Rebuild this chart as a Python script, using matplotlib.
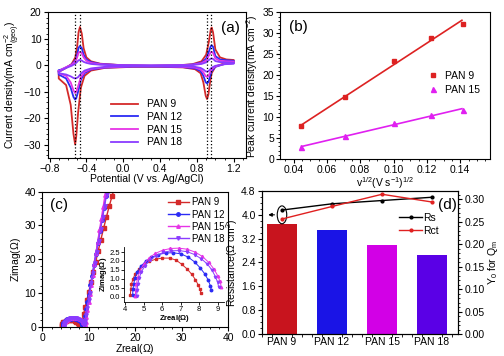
import numpy as np
import matplotlib.pyplot as plt
from matplotlib.patches import Ellipse

plt.rcParams['font.family'] = ['Liberation Sans', 'DejaVu Sans']
plt.rcParams['font.size'] = 7.5
plt.rcParams['mathtext.default'] = 'regular'

labels = ['PAN 9', 'PAN 12', 'PAN 15', 'PAN 18']
colors = ['#d42a2a', '#2b2bf5', '#e633e6', '#8a3cff']

# (a) cyclic voltammograms
E_fwd = [-0.70, -0.62, -0.56, -0.52, -0.50, -0.485, -0.47, -0.45, -0.43, -0.40, -0.35, -0.25, 0.0,
         0.3, 0.6, 0.75, 0.85, 0.90, 0.93, 0.95, 0.96, 0.975, 1.0, 1.05, 1.12, 1.2]
E_rev = [1.2, 1.1, 1.0, 0.96, 0.94, 0.925, 0.91, 0.895, 0.87, 0.84, 0.78, 0.65, 0.4, 0.1,
         -0.2, -0.35, -0.42, -0.46, -0.49, -0.51, -0.522, -0.54, -0.57, -0.62, -0.70]
j9_fwd = [-2.5, -1.0, 0.5, 3.0, 7.0, 12.5, 14.5, 12.0, 6.5, 3.0, 1.5, 0.6, 0.0, -0.2, 0.0, 0.4, 1.5,
          4.0, 9.0, 13.5, 14.3, 12.5, 6.0, 3.0, 2.2, 2.0]
j12_fwd = [-2.0, -0.8, 0.3, 1.8, 4.0, 6.6, 7.3, 6.5, 4.0, 2.2, 1.2, 0.5, 0.0, -0.1, 0.0, 0.3, 1.0,
           2.5, 5.2, 7.2, 7.6, 7.0, 3.5, 2.2, 1.9, 1.7]
j15_fwd = [-2.2, -0.7, 0.2, 1.4, 3.0, 4.7, 5.1, 4.6, 3.0, 1.7, 0.9, 0.4, 0.0, -0.1, 0.0, 0.2, 0.8,
           1.8, 3.7, 4.9, 5.1, 4.7, 2.6, 1.7, 1.5, 1.4]
j18_fwd = [-2.5, -1.0, -0.2, 0.6, 1.3, 1.9, 2.0, 1.8, 1.3, 0.9, 0.5, 0.2, 0.0, -0.1, 0.0, 0.1, 0.5,
           1.1, 2.0, 2.5, 2.6, 2.4, 1.6, 1.2, 1.1, 1.0]
j9_rev = [1.0, 0.8, -0.5, -3.0, -7.0, -11.0, -12.8, -11.5, -6.5, -3.0, -1.5, -0.8, -0.6, -0.6, -1.0,
          -2.0, -4.0, -8.5, -18.0, -27.0, -30.0, -26.0, -15.0, -7.5, -5.0]
j12_rev = [0.8, 0.5, -0.6, -2.2, -4.5, -6.3, -6.9, -6.4, -4.0, -2.2, -1.2, -0.7, -0.5, -0.5, -0.9,
           -1.6, -3.0, -5.5, -10.0, -12.5, -13.0, -12.0, -8.5, -5.0, -3.5]
j15_rev = [0.8, 0.5, -0.4, -1.5, -3.0, -4.1, -4.4, -4.1, -2.7, -1.6, -0.9, -0.6, -0.4, -0.4, -0.8,
           -1.4, -2.5, -4.5, -8.0, -10.0, -10.5, -9.5, -6.5, -4.0, -3.0]
j18_rev = [0.6, 0.4, -0.2, -0.9, -1.7, -2.2, -2.4, -2.3, -1.6, -1.0, -0.6, -0.4, -0.3, -0.3, -0.6,
           -1.2, -2.0, -3.2, -4.5, -4.9, -5.0, -4.8, -4.2, -3.5, -3.0]
peak_lines = [-0.522, -0.47, 0.91, 0.958]

# (b) peak current vs sqrt(scan rate)
sqrt_v = [0.0447, 0.0707, 0.1, 0.1225, 0.1414]
ip_pan9 = [7.9, 14.9, 23.4, 28.8, 32.1]
ip_pan15 = [2.9, 5.4, 8.6, 10.5, 11.6]
fit_x = [0.045, 0.141]
fit_pan9 = [8.2, 33.1]
fit_pan15 = [3.0, 12.0]

# (c) Nyquist plots: semicircle part, then low-frequency tail
zre9 = [4.28, 4.30, 4.34, 4.42, 4.55, 4.75, 5.00, 5.30, 5.65, 6.00, 6.40, 6.75, 7.05, 7.35, 7.60, 7.80, 7.95, 8.05, 8.10]
zim9 = [0.10, 0.40, 0.70, 1.00, 1.28, 1.55, 1.78, 1.97, 2.10, 2.16, 2.16, 2.05, 1.82, 1.55, 1.25, 0.95, 0.65, 0.40, 0.20]
zre12 = [4.40, 4.42, 4.46, 4.53, 4.65, 4.85, 5.10, 5.42, 5.80, 6.20, 6.60, 7.00, 7.40, 7.75, 8.05, 8.30, 8.48, 8.60, 8.66]
zim12 = [0.10, 0.40, 0.72, 1.05, 1.38, 1.70, 1.98, 2.20, 2.36, 2.45, 2.46, 2.40, 2.22, 1.95, 1.62, 1.28, 0.95, 0.62, 0.35]
zre15 = [4.55, 4.57, 4.61, 4.68, 4.80, 5.00, 5.28, 5.62, 6.02, 6.45, 6.90, 7.35, 7.78, 8.18, 8.52, 8.80, 9.00, 9.13, 9.20]
zim15 = [0.05, 0.38, 0.72, 1.08, 1.45, 1.82, 2.15, 2.42, 2.60, 2.70, 2.72, 2.66, 2.50, 2.25, 1.92, 1.55, 1.18, 0.85, 0.55]
zre18 = [4.62, 4.64, 4.68, 4.75, 4.87, 5.07, 5.34, 5.68, 6.06, 6.48, 6.92, 7.35, 7.75, 8.12, 8.45, 8.70, 8.88, 9.00, 9.06]
zim18 = [0.05, 0.35, 0.68, 1.02, 1.38, 1.73, 2.05, 2.30, 2.48, 2.57, 2.58, 2.52, 2.36, 2.12, 1.82, 1.48, 1.12, 0.80, 0.52]
tail_re9 = [8.3, 8.6, 8.9, 9.2, 9.6, 10.0, 10.5, 11.0, 11.5, 12.0, 12.6, 13.2, 13.8, 14.4, 15.0, 15.6]
tail_im9 = [0.6, 2.0, 3.8, 5.8, 8.0, 10.3, 13.2, 16.3, 19.3, 22.3, 25.8, 29.2, 32.5, 35.7, 38.6, 41.5]
tail_re12 = [8.75, 8.95, 9.2, 9.45, 9.7, 10.0, 10.35, 10.7, 11.1, 11.5, 11.9, 12.35, 12.8, 13.25, 13.7, 14.2]
tail_im12 = [0.5, 1.5, 3.2, 5.2, 7.2, 9.5, 12.3, 15.1, 18.3, 21.5, 24.7, 28.2, 31.7, 35.2, 38.7, 42.0]
tail_re15 = [9.25, 9.35, 9.5, 9.7, 9.95, 10.2, 10.5, 10.85, 11.2, 11.55, 11.9, 12.3, 12.7, 13.1, 13.5, 13.9]
tail_im15 = [0.6, 1.5, 3.0, 5.0, 7.3, 9.6, 12.3, 15.4, 18.5, 21.8, 25.1, 28.5, 32.0, 35.5, 39.0, 42.3]
tail_re18 = [9.1, 9.25, 9.45, 9.7, 9.95, 10.2, 10.55, 10.9, 11.3, 11.7, 12.1, 12.55, 13.0, 13.4, 13.85, 14.3]
tail_im18 = [0.8, 1.8, 3.5, 5.6, 7.8, 10.0, 12.9, 15.8, 19.0, 22.2, 25.5, 29.0, 32.5, 35.8, 39.3, 42.5]

# (d) fitted parameters
y0_qm = [0.245, 0.232, 0.197, 0.176]
rs = [4.16, 4.37, 4.48, 4.59]
rct = [3.86, 4.28, 4.69, 4.43]
bar_colors = ['#c8141e', '#1a14e6', '#d200e6', '#5a00e6']


def style_ticks(a, size=7.5):
    a.minorticks_on()
    a.tick_params(which='both', direction='out', top=False, right=False, labelsize=size, pad=1.5)
    a.tick_params(which='major', length=3)
    a.tick_params(which='minor', length=1.5)


fig = plt.figure(figsize=(5.04, 3.56), dpi=100)

# ---- (a)
ax = fig.add_axes([0.0946, 0.557, 0.393, 0.408])
fwd = [j9_fwd, j12_fwd, j15_fwd, j18_fwd]
rev = [j9_rev, j12_rev, j15_rev, j18_rev]
for i in range(4):
    x = list(E_fwd) + list(E_rev) + [E_fwd[0]]
    y = list(fwd[i]) + list(rev[i]) + [fwd[i][0]]
    ax.plot(x, y, color=colors[i], lw=1.3, label=labels[i])
for xv in peak_lines:
    ax.axvline(xv, color='k', ls=':', lw=0.9)
ax.set_xlim(-0.82, 1.33)
ax.set_ylim(-35, 20)
ax.set_xticks([-0.8, -0.4, 0.0, 0.4, 0.8, 1.2])
ax.set_yticks([-30, -20, -10, 0, 10, 20])
ax.set_xlabel('Potential (V vs. Ag/AgCl)', labelpad=0)
ax.set_ylabel('Current density(mA cm$^{-2}_{(geo)}$)', labelpad=1)
ax.text(0.97, 0.94, '(a)', transform=ax.transAxes, ha='right', va='top', fontsize=11)
ax.legend(loc='upper left', bbox_to_anchor=(0.3, 0.43), frameon=False, handlelength=2.6,
          labelspacing=0.25, borderaxespad=0, fontsize=7.5)
style_ticks(ax)

# ---- (b)
ax = fig.add_axes([0.556, 0.5534, 0.4167, 0.412])
ax.plot(fit_x, fit_pan9, color='#dd2222', lw=1.2)
ax.plot(fit_x, fit_pan15, color='#e020f0', lw=1.2)
ax.plot(sqrt_v, ip_pan9, 's', color='#dd2222', ms=3.2, label='PAN 9')
ax.plot(sqrt_v, ip_pan15, '^', color='#e020f0', ms=3.6, label='PAN 15')
ax.set_xlim(0.032, 0.158)
ax.set_ylim(0, 35)
ax.set_xticks([0.04, 0.06, 0.08, 0.10, 0.12, 0.14])
ax.set_yticks(range(0, 36, 5))
ax.set_xlabel('v$^{1/2}$(V s$^{-1}$)$^{1/2}$', labelpad=0)
ax.set_ylabel('Peak current density(mA cm$^{-2}$)', labelpad=2)
ax.text(0.04, 0.95, '(b)', transform=ax.transAxes, ha='left', va='top', fontsize=11)
ax.legend(loc='center left', bbox_to_anchor=(0.66, 0.52), frameon=False, handlelength=1,
          handletextpad=0.6, labelspacing=0.4, fontsize=7.5)
style_ticks(ax)

# ---- (c)
ax = fig.add_axes([0.0839, 0.082, 0.369, 0.38])
markers = ['s', 'o', '^', 'v']
semi_re = [zre9, zre12, zre15, zre18]
semi_im = [zim9, zim12, zim15, zim18]
tails_re = [tail_re9, tail_re12, tail_re15, tail_re18]
tails_im = [tail_im9, tail_im12, tail_im15, tail_im18]
for i in range(4):
    ax.plot(list(semi_re[i]) + list(tails_re[i]), list(semi_im[i]) + list(tails_im[i]),
            color=colors[i], marker=markers[i], ms=2.5, lw=1.0, label=labels[i])
ax.set_xlim(0, 40)
ax.set_ylim(0, 40)
ax.set_xticks([0, 10, 20, 30, 40])
ax.set_yticks([0, 10, 20, 30, 40])
ax.set_xlabel('Zreal($\\Omega$)', labelpad=-1)
ax.set_ylabel('Zimag($\\Omega$)', labelpad=1)
ax.text(0.04, 0.95, '(c)', transform=ax.transAxes, ha='left', va='top', fontsize=11)
ax.legend(loc='upper right', bbox_to_anchor=(1.0, 0.985), frameon=False, handlelength=2.2,
          handletextpad=0.3, labelspacing=0.22, borderaxespad=0, fontsize=7)
style_ticks(ax)

ins = fig.add_axes([0.2466, 0.152, 0.198, 0.155])
for i in range(4):
    ins.plot(semi_re[i], semi_im[i], color=colors[i], marker=markers[i], ms=1.8, lw=0.7)
ins.set_xlim(3.95, 9.35)
ins.set_ylim(-0.3, 2.8)
ins.set_xticks([4, 5, 6, 7, 8, 9])
ins.set_yticks([0.0, 0.5, 1.0, 1.5, 2.0, 2.5])
ins.yaxis.set_major_formatter(plt.FormatStrFormatter('%.1f'))
ins.set_xlabel('Zreal($\\Omega$)', fontsize=5.5, labelpad=0, fontweight='bold')
ins.set_ylabel('Zimag($\\Omega$)', fontsize=5.5, labelpad=0, fontweight='bold')
ins.spines['top'].set_visible(False)
ins.spines['right'].set_visible(False)
ins.patch.set_alpha(0)
ins.tick_params(direction='out', labelsize=5.5, length=2, pad=1, width=0.6)
for s in ins.spines.values():
    s.set_linewidth(0.6)

# ---- (d)
ax = fig.add_axes([0.5198, 0.0618, 0.389, 0.4017])
ax2 = ax.twinx()
pos = np.arange(len(labels))
ax2.bar(pos, y0_qm, width=0.6, color=bar_colors)
ax2.set_ylim(0, 0.318)
ax2.set_yticks([0.0, 0.05, 0.10, 0.15, 0.20, 0.25, 0.30])
ax2.yaxis.set_major_formatter(plt.FormatStrFormatter('%.2f'))
ax2.set_ylabel('Y$_0$ for Q$_m$', labelpad=1)
style_ticks(ax2)
ax2.tick_params(which='both', right=True)
ax2.tick_params(axis='x', which='both', bottom=False)

ax.set_zorder(ax2.get_zorder() + 1)
ax.patch.set_visible(False)
ax.plot(pos, rs, color='k', marker='o', ms=2, lw=1.0, label='Rs')
ax.plot(pos, rct, color='#e02020', marker='o', ms=2, lw=1.0, label='Rct')
ax.add_patch(Ellipse((0, 4.0), 0.19, 0.6, fill=False, ec='k', lw=0.8))
ax.annotate('', xy=(-0.33, 4.0), xytext=(-0.095, 4.0),
            arrowprops=dict(arrowstyle='-|>', color='k', lw=0.8, mutation_scale=5))
ax.set_xlim(-0.4, 3.52)
ax.set_ylim(0, 4.8)
ax.set_yticks([0.0, 0.8, 1.6, 2.4, 3.2, 4.0, 4.8])
ax.yaxis.set_major_formatter(plt.FormatStrFormatter('%.1f'))
ax.set_xticks(pos)
ax.set_xticklabels(labels)
ax.set_ylabel('Resistance($\\Omega$ cm$^2$)')
ax.yaxis.set_label_coords(-0.112, 0.5)
ax.text(0.995, 0.905, '(d)', transform=ax.transAxes, ha='right', va='center', fontsize=11)
ax.legend(loc='upper left', bbox_to_anchor=(0.68, 0.875), frameon=False, handlelength=2.2,
          handletextpad=0.1, labelspacing=0.25, borderaxespad=0, fontsize=7.5)
ax.yaxis.set_minor_locator(plt.MultipleLocator(0.2))
ax.tick_params(axis='y', which='both', direction='out', labelsize=7.5, pad=1.5)
ax.tick_params(axis='y', which='major', length=3)
ax.tick_params(axis='y', which='minor', length=1.5)
ax.tick_params(axis='x', length=0, labelsize=7.5, pad=2)

fig.savefig('out.png', dpi=100)
